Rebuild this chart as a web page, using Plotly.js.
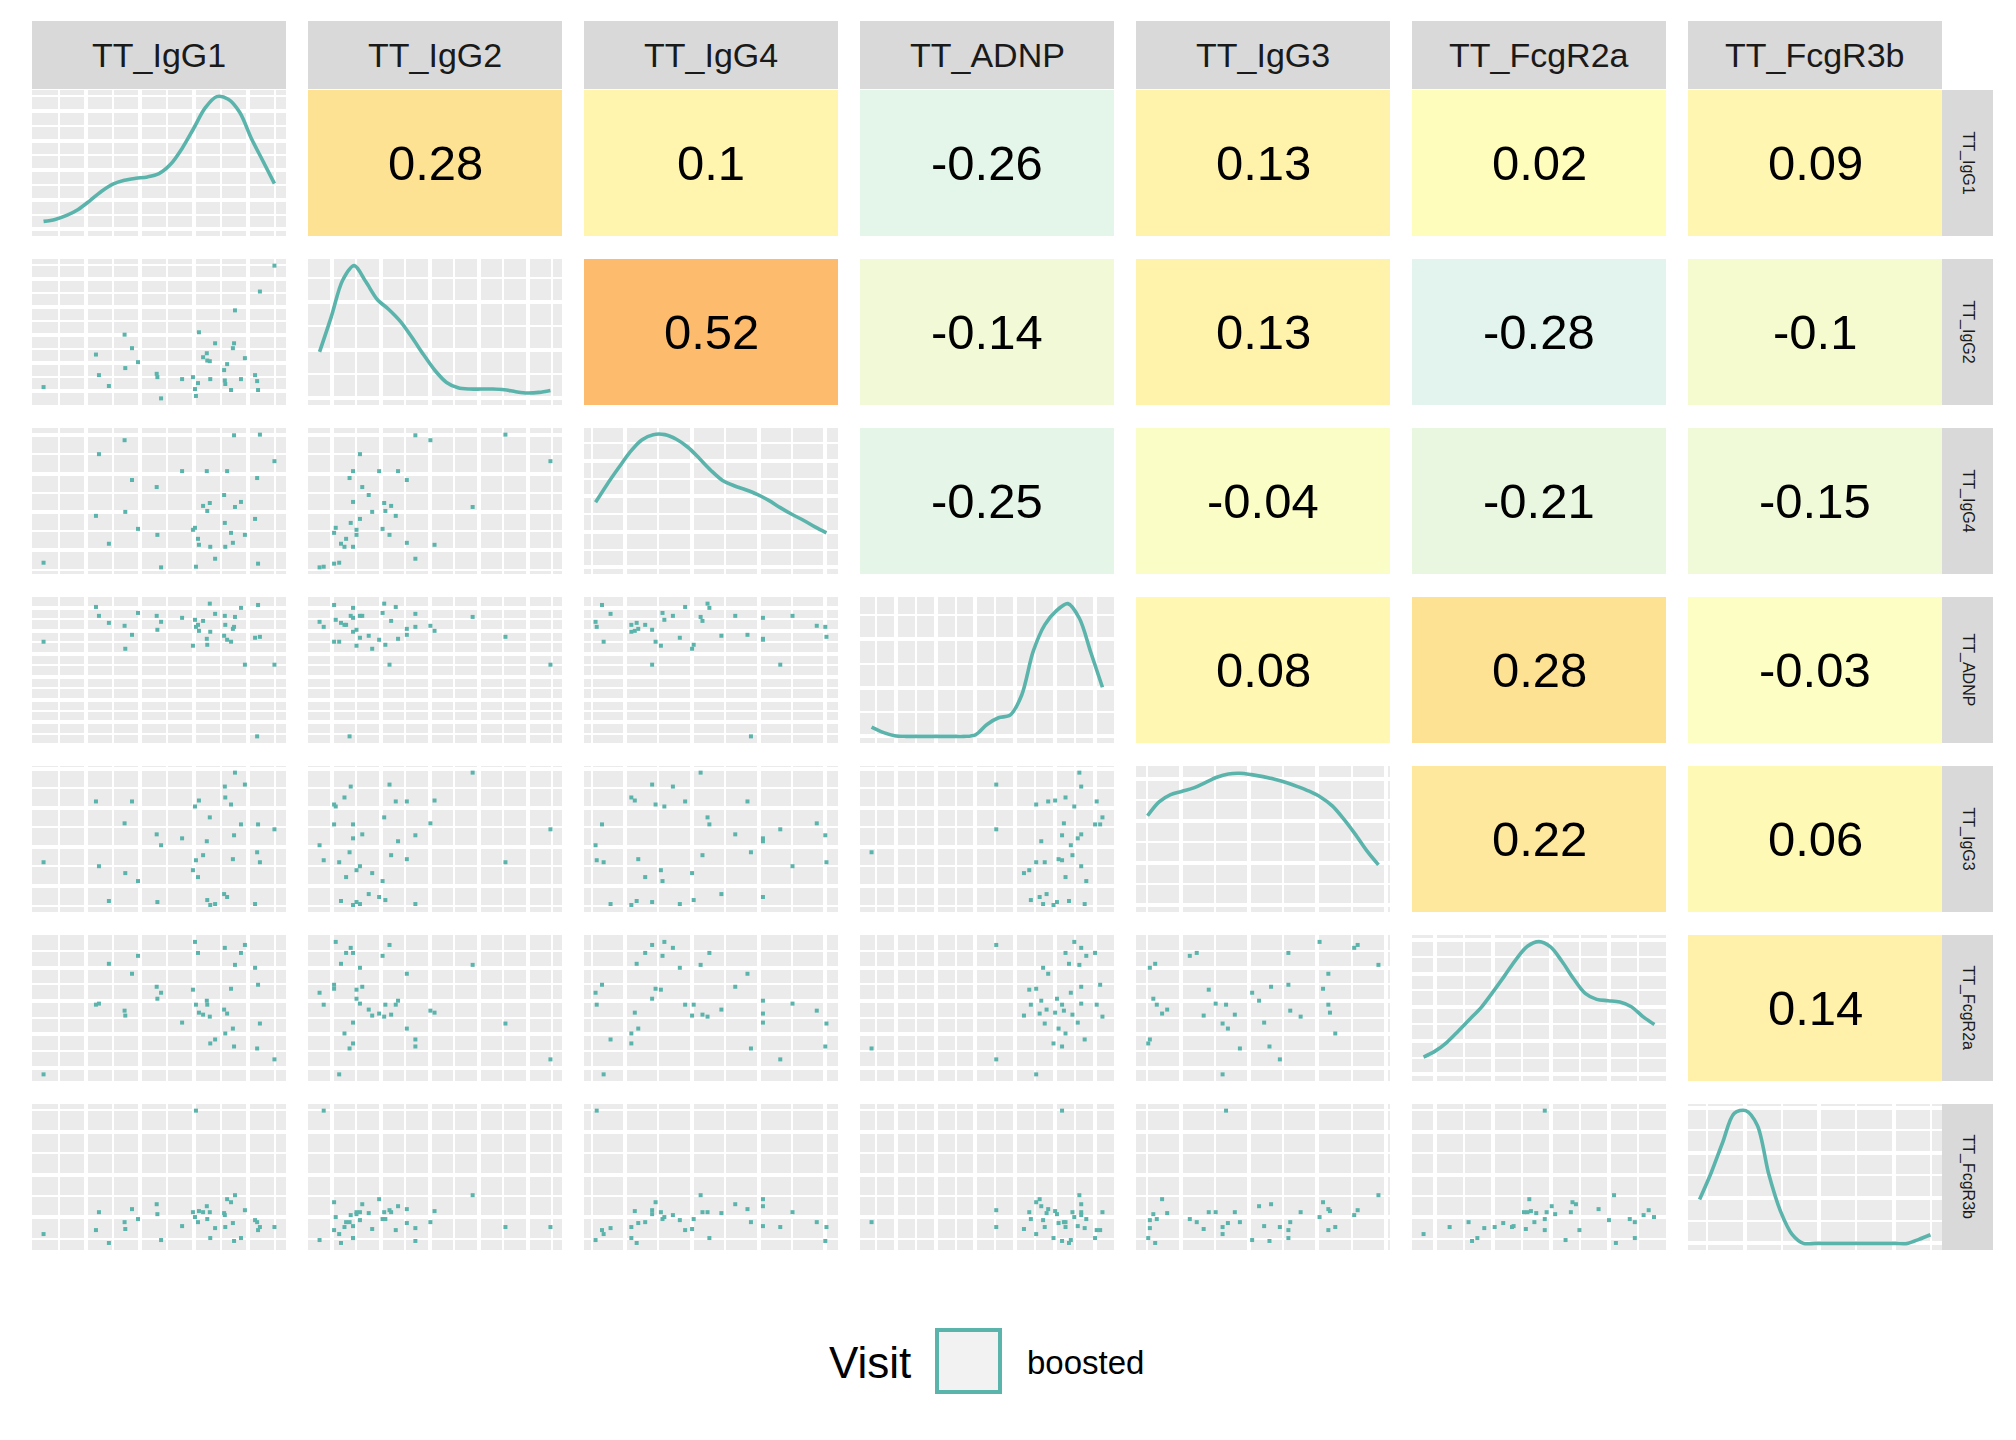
<!DOCTYPE html>
<html>
<head>
<meta charset="utf-8">
<script src="https://cdn.plot.ly/plotly-3.0.1.min.js"></script>
<style>html,body{margin:0;padding:0;background:#fff}</style>
</head>
<body>
<div id="chart" style="width:2016px;height:1440px"></div>
<script>

// variables of the pairs matrix (order of rows / columns)
var varNames = ['TT_IgG1', 'TT_IgG2', 'TT_IgG4', 'TT_ADNP', 'TT_IgG3', 'TT_FcgR2a', 'TT_FcgR3b']

// sample values, rescaled so each variable runs 0..100 (min..max)
var IgG1   = [0, 22.7, 24.0, 28.3, 35.1, 35.4, 38.3, 40.9, 49.0, 49.3, 50.9, 60.0, 64.7, 65.6, 66.0, 66.9, 67.3, 69.1, 70.7, 70.9, 72.0, 72.2, 74.3, 78.2, 78.5, 78.7, 79.5, 81.2, 82.0, 82.5, 82.9, 85.5, 87.2, 91.6, 92.5, 92.9, 93.7, 100]
var IgG2   = [8.5, 33, 17.5, 9.3, 48, 22.8, 37.8, 27.3, 18.5, 16, 0, 14.5, 16, 7, 1.8, 11.5, 49.8, 31, 34, 28.5, 28, 14.5, 41.5, 21.3, 13.5, 10.8, 25.8, 6.3, 37.8, 41.5, 66.3, 14.5, 30.3, 17.5, 13, 6.3, 80.5, 100]
var IgG4   = [3.5, 38.8, 85.3, 17.8, 95.8, 41.8, 65.8, 29, 60.5, 24.5, 0, 72.5, 28.3, 29.8, 0.5, 21.5, 17, 46.3, 72.5, 42.5, 48.5, 15.5, 6.5, 54.5, 33.5, 15.5, 72.5, 26, 18.5, 99.5, 45.5, 49.3, 24.5, 36.5, 67.3, 2.8, 100, 80]
var ADNP   = [71.3, 97.5, 90.8, 85.5, 83.3, 66, 76.5, 93, 90.8, 80.3, 86.3, 89.3, 68.3, 87.8, 82.5, 84, 79.5, 87, 73.5, 69, 100, 78.8, 92.3, 75.8, 90.8, 84, 72.8, 71.3, 81, 82.5, 90, 96.8, 54, 74.3, 0, 99, 75, 54]
var IgG3   = [32.5, 78.3, 29.5, 3.3, 61.8, 24.3, 78.3, 18.3, 53.5, 2.5, 45.3, 50.5, 26.5, 74.5, 34, 21.3, 79, 37.8, 48.3, 4, 66.3, 0.3, 1, 8.5, 89.5, 81.3, 6.3, 76, 34.8, 52.8, 100, 61, 91, 1, 40, 61, 32.5, 57.3]
var FcgR2a = [0, 52.5, 53.3, 83.3, 48, 44.3, 75.8, 89.3, 66, 57, 61.5, 39, 63.8, 99.8, 52.5, 91.5, 46.5, 45, 55.5, 52.5, 43.5, 23.3, 26.3, 48.8, 95.3, 30.8, 45.8, 64.5, 34.5, 21, 82.5, 91.5, 97.5, 80.3, 19.5, 67.5, 38.3, 11.3]
var FcgR3b = [7, 10, 23.5, 0.3, 16, 10.8, 25.8, 18.3, 29.5, 22, 2.5, 13, 23.5, 19.8, 100, 16, 24.3, 23.5, 28, 18.3, 23.5, 4, 11.5, 22.8, 21.3, 12.3, 33.3, 31, 15.3, 1.8, 36.3, 4, 25, 17.5, 16, 10, 12.3, 12.3]

// density curves on the diagonal, read at densX (relative height, 0 = zero density)
var densX        = [0, 5, 10, 15, 20, 25, 30, 35, 40, 45, 50, 55, 60, 65, 70, 75, 80, 85, 90, 95, 100]
var densIgG1     = [6, 7.5, 10.5, 15, 21.5, 28.5, 34, 37, 38.5, 39.5, 42, 49, 61, 76, 91.5, 100, 98, 88, 68.5, 51.5, 34.5]
var densIgG2     = [35, 61, 89, 100, 88, 74.5, 67, 58, 46, 33, 21, 12, 8, 7, 7, 7, 6.5, 5, 4, 4.5, 6]
var densIgG4     = [49, 62.5, 75, 87, 96, 100, 100, 96.5, 90.5, 82, 73, 65.5, 61.5, 58.5, 55, 50.5, 45, 40, 35.5, 30.5, 26]
var densADNP     = [7, 3, 0.5, 0, 0, 0, 0, 0, 0, 1.2, 9, 14, 16, 31, 64, 84, 94.5, 100, 89, 63, 37]
var densIgG3     = [67.5, 78, 83.5, 86, 88.5, 92.5, 96.5, 99, 99.5, 98.5, 97, 95, 92.5, 89.5, 86, 81.5, 75, 65, 53.5, 41, 30.5]
var densFcgR2a   = [13, 17.5, 24, 32.5, 41.5, 50.5, 62, 74, 86.5, 96.5, 100, 96, 85, 72, 61, 56.5, 55.5, 54.5, 51, 43.5, 37.5]
var densFcgR3b   = [33, 53, 76, 98, 100, 89, 52, 24.5, 7, 0, 0, 0, 0, 0, 0, 0, 0, 0, 0, 3, 6.5]

// correlations, upper triangle, one array per row
var corrIgG1   = [0.28, 0.1, -0.26, 0.13, 0.02, 0.09]
var corrIgG2   = [0.52, -0.14, 0.13, -0.28, -0.1]
var corrIgG4   = [-0.25, -0.04, -0.21, -0.15]
var corrADNP   = [0.08, 0.28, -0.03]
var corrIgG3   = [0.22, 0.06]
var corrFcgR2a = [0.14]

// gridline breaks (major start / step) per variable and per density axis
var gridStart = [18.4, 5.4, 12.8, 10.5, 14.6, 5.0, 19.5]
var gridStep  = [23.4, 21.2, 28.9, 17.25, 29.5, 25.1, 32.3]
var densStep  = [22.3, 36.3, 26.7, 36.5, 31.8, 25.3, 34.1]

var legendTitle = 'Visit'
var legendLabel = 'boosted'


var samples = [IgG1, IgG2, IgG4, ADNP, IgG3, FcgR2a, FcgR3b]
var densities = [densIgG1, densIgG2, densIgG4, densADNP, densIgG3, densFcgR2a, densFcgR3b]
var corrRows = [corrIgG1, corrIgG2, corrIgG4, corrADNP, corrIgG3, corrFcgR2a]

var W = 2016, H = 1440
var nVar = varNames.length
var left0 = 32, top0 = 90
var panelW = 254, panelH = 146
var colPitch = 276, rowPitch = 169
var teal = '#5AB4AC'
var fontFam = '"Liberation Sans", Arial, sans-serif'

// diverging fill for the correlation cells
var corrStops = [[-0.6, '#abd9e9'], [-0.3, '#e0f3f0'], [0, '#ffffbf'], [0.3, '#fee090'], [0.6, '#fdae61'], [0.9, '#f46d43']]

function hexToRgb(h) {
    return [parseInt(h.slice(1,3),16), parseInt(h.slice(3,5),16), parseInt(h.slice(5,7),16)]
}

function corrColor(v) {
    if (v <= corrStops[0][0]) {return corrStops[0][1]}
    for (var i=1;i<corrStops.length;i++) {
        if (v <= corrStops[i][0]) {
            var a = corrStops[i-1], b = corrStops[i]
            var t = (v - a[0]) / (b[0] - a[0])
            var ca = hexToRgb(a[1]), cb = hexToRgb(b[1])
            var c = ca.map(function (x, j) {return Math.round(x + (cb[j]-x)*t)})
            return 'rgb('+c.join(',')+')'
        }
    }
    return corrStops[corrStops.length-1][1]
}

function axisSpec(domain, anchor, t0, step, grid) {
    return {
        domain: domain,
        anchor: anchor,
        range: [-5, 105],
        showticklabels: false,
        ticks: '',
        zeroline: false,
        showline: false,
        fixedrange: true,
        showgrid: grid,
        gridcolor: 'white',
        gridwidth: 4,
        tickmode: 'linear',
        tick0: t0,
        dtick: step,
        minor: grid ? {tick0: t0, dtick: step/2, showgrid: true, gridcolor: 'white', gridwidth: 2, ticks: ''} : {showgrid: false},
    }
}

var layout = {
    width: W,
    height: H,
    margin: {l: 0, r: 0, t: 0, b: 0},
    paper_bgcolor: 'white',
    plot_bgcolor: '#EBEBEB',
    showlegend: false,
    font: {family: fontFam, color: '#1A1A1A'},
    shapes: [],
    annotations: [],
}
var data = []

for (var r=0;r<nVar;r++) {
    for (var c=0;c<nVar;c++) {

        var k = r*nVar + c + 1
        var sfx = (k == 1) ? '' : String(k)
        var px = left0 + c*colPitch
        var py = top0 + r*rowPitch

        var hasGrid = (r >= c)
        var yStart = (r == c) ? 0 : gridStart[r]
        var yStep = (r == c) ? densStep[r] : gridStep[r]

        layout['xaxis'+sfx] = axisSpec([px/W, (px+panelW)/W], 'y'+sfx, gridStart[c], gridStep[c], hasGrid)
        layout['yaxis'+sfx] = axisSpec([1-(py+panelH)/H, 1-py/H], 'x'+sfx, yStart, yStep, hasGrid)

        if (r > c) {
            data.push({
                type: 'scatter', mode: 'markers',
                x: samples[c], y: samples[r],
                xaxis: 'x'+sfx, yaxis: 'y'+sfx,
                marker: {symbol: 'square', size: 4, color: teal, line: {width: 0}},
                hoverinfo: 'skip',
            })
        } else if (r == c) {
            data.push({
                type: 'scatter', mode: 'lines',
                x: densX, y: densities[r],
                xaxis: 'x'+sfx, yaxis: 'y'+sfx,
                line: {color: teal, width: 3.6, shape: 'spline', smoothing: 0.9},
                hoverinfo: 'skip',
            })
        } else {
            var v = corrRows[r][c-r-1]
            data.push({type: 'scatter', mode: 'markers', x: [], y: [], xaxis: 'x'+sfx, yaxis: 'y'+sfx})
            layout.shapes.push({
                type: 'rect', layer: 'below',
                xref: 'x'+sfx+' domain', yref: 'y'+sfx+' domain',
                x0: 0, x1: 1, y0: 0, y1: 1,
                fillcolor: corrColor(v), line: {width: 0},
            })
            layout.annotations.push({
                xref: 'x'+sfx+' domain', yref: 'y'+sfx+' domain',
                x: 0.5, y: 0.5, xanchor: 'center', yanchor: 'middle',
                text: String(v), showarrow: false,
                font: {size: 49, color: '#000000', family: fontFam},
            })
        }
    }
}

// facet strips: column labels on top, row labels on the right
var stripTop = 21, stripH = 68
var stripRight = left0 + (nVar-1)*colPitch + panelW, stripW = 51
for (var i=0;i<nVar;i++) {
    var cx = left0 + i*colPitch
    layout.shapes.push({
        type: 'rect', xref: 'paper', yref: 'paper', layer: 'above',
        x0: cx/W, x1: (cx+panelW)/W, y0: 1-(stripTop+stripH)/H, y1: 1-stripTop/H,
        fillcolor: '#D9D9D9', line: {width: 0},
    })
    layout.annotations.push({
        xref: 'paper', yref: 'paper', x: (cx+panelW/2)/W, y: 1-(stripTop+stripH/2)/H,
        xanchor: 'center', yanchor: 'middle', text: varNames[i], showarrow: false,
        font: {size: 34, color: '#1A1A1A', family: fontFam},
    })

    var ry = top0 + i*rowPitch
    layout.shapes.push({
        type: 'rect', xref: 'paper', yref: 'paper', layer: 'above',
        x0: stripRight/W, x1: (stripRight+stripW)/W, y0: 1-(ry+panelH)/H, y1: 1-ry/H,
        fillcolor: '#D9D9D9', line: {width: 0},
    })
    layout.annotations.push({
        xref: 'paper', yref: 'paper', x: (stripRight+stripW/2)/W, y: 1-(ry+panelH/2)/H,
        xanchor: 'center', yanchor: 'middle', text: varNames[i], showarrow: false, textangle: 90,
        font: {size: 16, color: '#1A1A1A', family: fontFam},
    })
}

// legend, drawn by hand so the key box keeps its ggplot size
var legY = 1362
layout.annotations.push({
    xref: 'paper', yref: 'paper', x: 870/W, y: 1-legY/H,
    xanchor: 'center', yanchor: 'middle', text: legendTitle, showarrow: false,
    font: {size: 44, color: '#000000', family: fontFam},
})
layout.shapes.push({
    type: 'rect', xref: 'paper', yref: 'paper', layer: 'above',
    x0: 937/W, x1: 1000/W, y0: 1-1392/H, y1: 1-1330/H,
    fillcolor: '#F2F2F2', line: {color: teal, width: 4},
})
layout.annotations.push({
    xref: 'paper', yref: 'paper', x: 1025/W, y: 1-legY/H,
    xanchor: 'left', yanchor: 'middle', text: legendLabel, showarrow: false,
    font: {size: 33, color: '#000000', family: fontFam},
})

Plotly.newPlot('chart', data, layout, {displayModeBar: false, staticPlot: true})

</script>
</body>
</html>
